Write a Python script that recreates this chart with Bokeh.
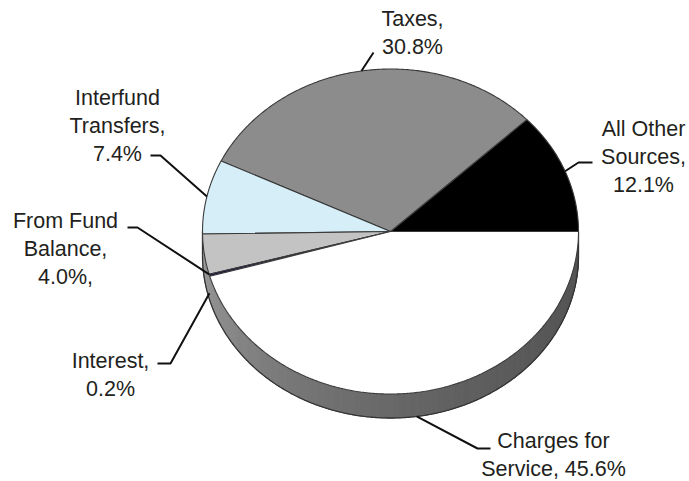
import numpy as np
from bokeh.plotting import figure
from bokeh.models import Range1d, ColumnDataSource
from bokeh.embed import file_html
from bokeh.resources import INLINE
from bokeh.core.properties import value

# ---------------- data ----------------
categories = ["All Other Sources", "Taxes", "Interfund Transfers",
              "From Fund Balance", "Interest", "Charges for Service"]
shares = [12.1, 30.8, 7.4, 4.0, 0.2, 45.6]
labels = ["All Other\nSources,\n12.1%", "Taxes,\n30.8%", "Interfund\nTransfers,\n7.4%",
          "From Fund\nBalance,\n4.0%,", "Interest,\n0.2%", "Charges  for\nService,  45.6%"]
colors = ["#000000", "#8c8c8c", "#d5eef8", "#c3c3c3", "#1e1646", "#ffffff"]

# ---------------- layout (reference pixel coordinates) ----------------
W, H = 689, 481
CX, CY = 390, 231          # pie centre
RX, RY = 188, 162.5        # ellipse radii
DEPTH = 24                 # 3-D thickness
label_pos = [(643, 116), (412, 6), (117, 85), (65, 208), (110, 348), (556, 428)]
lead_at = ["mid", "mid", "mid", "end", "mid", "mid"]
lead_drop = [0, 0, 0, 0, 18, DEPTH]
lead_pts = [[(578, 162), (592, 162)],
            [(373, 52)],
            [(160, 155), (150, 155)],
            [(137, 227), (127, 227)],
            [(170, 363), (157, 363)],
            [(477, 448), (490, 448)]]

p = figure(width=W, height=H, output_backend="svg", toolbar_location=None,
           x_range=Range1d(0, W), y_range=Range1d(-H, 0),
           x_axis_type=None, y_axis_type=None, min_border=0)
p.grid.visible = False
p.outline_line_color = None
p.background_fill_color = "white"
p.border_fill_color = "white"


def ept(t, drop=0.0):
    return CX + RX * np.cos(t), -(CY - RY * np.sin(t)) - drop


total = float(sum(shares))
cum = np.cumsum(shares)
ends = 2 * np.pi * cum / total
starts = ends - 2 * np.pi * np.array(shares) / total

# ---- side wall (front half) ----
ts = np.linspace(np.pi, 2 * np.pi, 361)
tx, ty = ept(ts)
bx, by = ept(ts, DEPTH)
p.patch(list(tx) + list(bx[::-1]), list(ty) + list(by[::-1]),
        fill_color="#777777", line_color=None)
sx, sy, sc = [], [], []
for a, b in zip(ts[:-1], ts[1:]):
    xa, ya = ept(a)
    xb, yb = ept(b)
    sx.append([xa, xb, xb, xa])
    sy.append([ya, yb, yb - DEPTH, ya - DEPTH])
    f = (((a + b) / 2) - np.pi) / np.pi
    g = int(round(160 * (1 - f) * (1 - 2 * f) + 105 * 4 * f * (1 - f) + 85 * f * (2 * f - 1)))
    sc.append("#%02x%02x%02x" % (g, g, g))
p.patches(sx, sy, fill_color=sc, line_color=sc, line_width=1)
p.line(bx, by, line_color="#333333", line_width=1.3)
for t in (np.pi, 2 * np.pi):
    x0, y0 = ept(t)
    p.line([x0, x0], [y0, y0 - DEPTH], line_color="#333333", line_width=1.3)

# ---- top face wedges ----
wx, wy = [], []
for s, e in zip(starts, ends):
    n = max(3, int(np.degrees(e - s) * 2))
    tt = np.linspace(s, e, n)
    ex, ey = ept(tt)
    wx.append([CX] + list(ex))
    wy.append([-CY] + list(ey))
p.patches(wx, wy, fill_color=colors, line_color="#3a3a3a", line_width=1.1)

# ---- leader lines ----
lx, ly = [], []
for i in range(len(shares)):
    t = (starts[i] + ends[i]) / 2 if lead_at[i] == "mid" else ends[i]
    ax, ay = ept(t, lead_drop[i])
    xs = [ax] + [q[0] for q in lead_pts[i]]
    ys = [ay] + [-q[1] for q in lead_pts[i]]
    lx.append(xs)
    ly.append(ys)
p.multi_line(lx, ly, line_color="#111111", line_width=2)

# ---- labels ----
src = ColumnDataSource(dict(x=[q[0] for q in label_pos], y=[-q[1] for q in label_pos], text=labels))
p.text(x="x", y="y", text="text", source=src, text_align="center", text_baseline="top",
       text_font=value("Liberation Sans"), text_font_size="21.5px", text_color="#231f20",
       text_line_height=1.18)

open("out.html", "w").write(file_html(p, INLINE))
